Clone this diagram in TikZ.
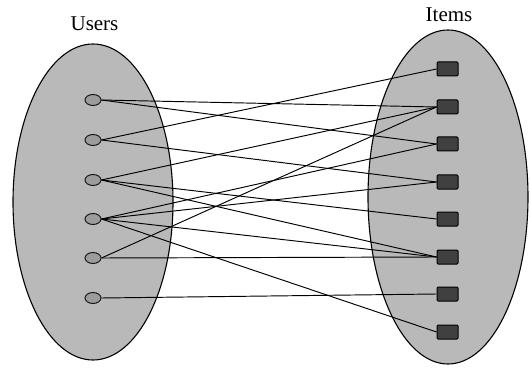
\documentclass[tikz,border=0pt]{standalone}
\usepackage{fontspec}
\setmainfont{Liberation Serif}
\usetikzlibrary{shapes.geometric}
\definecolor{setfill}{HTML}{B9B9B9}
\definecolor{userfill}{HTML}{9C9C9C}
\definecolor{itemfill}{HTML}{404040}
\begin{document}
\begin{tikzpicture}[x=1pt,y=-1pt,
  setshape/.style={ellipse,draw=black,line width=1.1pt,fill=setfill,inner sep=0pt},
  usernode/.style={ellipse,draw=black!90,line width=1pt,fill=userfill,minimum width=16pt,minimum height=11pt,inner sep=0pt},
  itemnode/.style={rectangle,rounded corners=1pt,draw=black,line width=1pt,fill=itemfill,minimum width=21pt,minimum height=14pt,inner sep=0pt},
  lbl/.style={font=\fontsize{21}{24}\selectfont},
  link/.style={draw=black,line width=0.95pt}]
\useasboundingbox (0,0) rectangle (531,369);
\node[setshape,minimum width=160pt,minimum height=316pt] (U) at (93,202) {};
\node[setshape,minimum width=160pt,minimum height=334pt] (I) at (448,197) {};
\node[lbl] (ul) at (94.5,24) {Users};
\node[lbl] (il) at (449,15) {Items};
\foreach \i/\y in {1/100,2/140,3/180,4/219,5/258,6/298}
  \node[usernode] (u\i) at (93,\y) {};
\foreach \i/\y in {1/69,2/107,3/144,4/182,5/219,6/257,7/294,8/332}
  \node[itemnode] (i\i) at (447.5,\y) {};
\foreach \a/\b in {1/2,1/3,2/1,2/4,3/2,3/5,3/6,4/3,4/4,4/6,4/8,5/2,5/6,6/7}
  \draw[link] (u\a.east) -- (i\b.west);
\end{tikzpicture}
\end{document}
